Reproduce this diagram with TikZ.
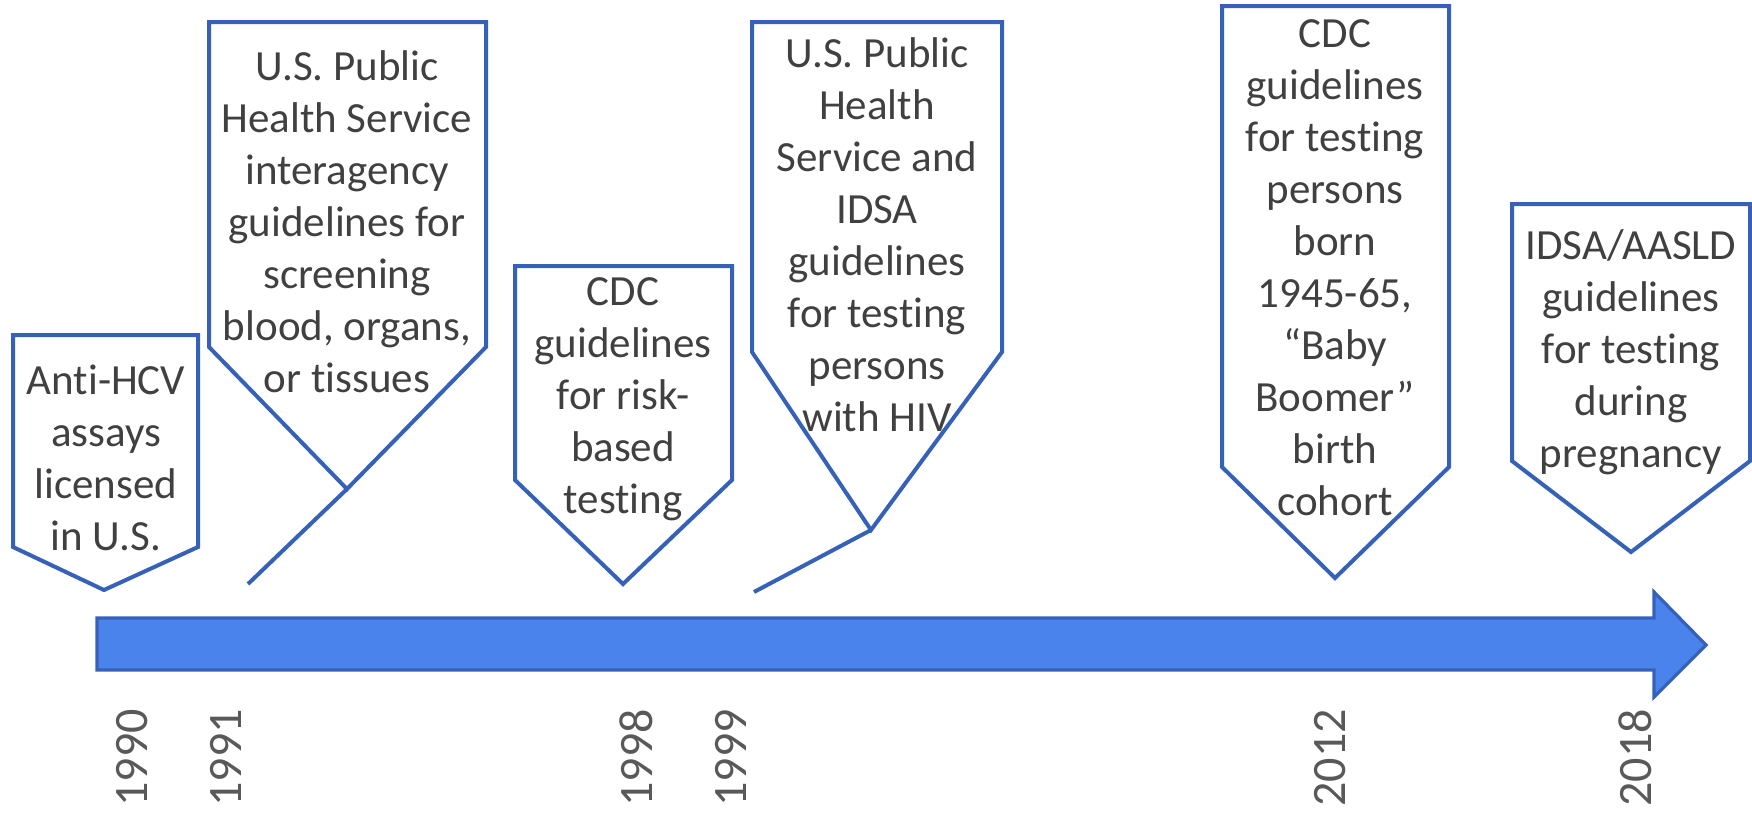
\documentclass[tikz,border=0pt]{standalone}
\usepackage{fontspec}
\setmainfont{Carlito}[Ligatures={NoCommon,NoRare,NoContextual}]
\definecolor{calloutblue}{HTML}{3562B8}
\definecolor{arrowfill}{HTML}{4A83EC}
\definecolor{labelgray}{HTML}{404040}
\definecolor{yeargray}{HTML}{595959}
\begin{document}
\begin{tikzpicture}[x=0.5pt,y=-0.5pt,
  callout/.style={draw=calloutblue, line width=2pt, line join=miter},
  pointer/.style={draw=calloutblue, line width=2pt},
  label/.style={text=labelgray, align=center, inner sep=0pt,
    font=\fontsize{21.5}{26}\selectfont},
  year/.style={text=yeargray, rotate=90, anchor=west, inner sep=0pt,
    font=\fontsize{24}{28}\selectfont}]
\useasboundingbox (0,0) rectangle (1752,816);

% timeline arrow
\draw[draw=calloutblue, line width=1.6pt, fill=arrowfill, line join=miter]
  (97,618) -- (1654,618) -- (1654,592) -- (1706,645) -- (1654,697)
  -- (1654,670) -- (97,670) -- cycle;

% event texts
\node[label] (t1990) at (106,458) {Anti-HCV\\assays\\licensed\\in U.S.};
\node[label] (t1991) at (347,222) {U.S. Public\\Health Service\\interagency\\guidelines for\\screening\\blood, organs,\\or tissues};
\node[label] (t1998) at (623,399) {CDC\\guidelines\\for risk-\\based\\testing};
\node[label] (t1999) at (877,235) {U.S. Public\\Health\\Service and\\IDSA\\guidelines\\for testing\\persons\\with HIV};
\node[label] (t2012) at (1335,268) {CDC\\guidelines\\for testing\\persons\\born\\1945-65,\\“Baby\\Boomer”\\birth\\cohort};
\node[label] (t2018) at (1631,352) {IDSA/AASLD\\guidelines\\for testing\\during\\pregnancy};

% callout outlines with their tips
\coordinate (p1990) at (104,590);
\coordinate (p1991) at (347,489);
\coordinate (p1998) at (623,584);
\coordinate (p1999) at (871,530);
\coordinate (p2012) at (1335,578);
\coordinate (p2018) at (1631,552);
\coordinate (e1991) at (248,584);
\coordinate (e1999) at (754,592);

\draw[callout] (13,335) -- (198,335) -- (198,547) -- (p1990) -- (13,547) -- cycle;
\draw[callout] (209,22) -- (486,22) -- (486,347) -- (p1991) -- (209,347) -- cycle;
\draw[callout] (515,266) -- (732,266) -- (732,480) -- (p1998) -- (515,480) -- cycle;
\draw[callout] (752,22) -- (1002,22) -- (1002,352) -- (p1999) -- (752,352) -- cycle;
\draw[callout] (1222,6) -- (1449,6) -- (1449,467) -- (p2012) -- (1222,467) -- cycle;
\draw[callout] (1512,204) -- (1750,204) -- (1750,461) -- (p2018) -- (1512,461) -- cycle;

\draw[pointer] (p1991) -- (e1991);
\draw[pointer] (p1999) -- (e1999);

% years
\node[year] (y1990) at (132,807) {1990};
\node[year] (y1991) at (226,807) {1991};
\node[year] (y1998) at (636,807) {1998};
\node[year] (y1999) at (731,807) {1999};
\node[year] (y2012) at (1330,807) {2012};
\node[year] (y2018) at (1635,807) {2018};
\end{tikzpicture}
\end{document}
